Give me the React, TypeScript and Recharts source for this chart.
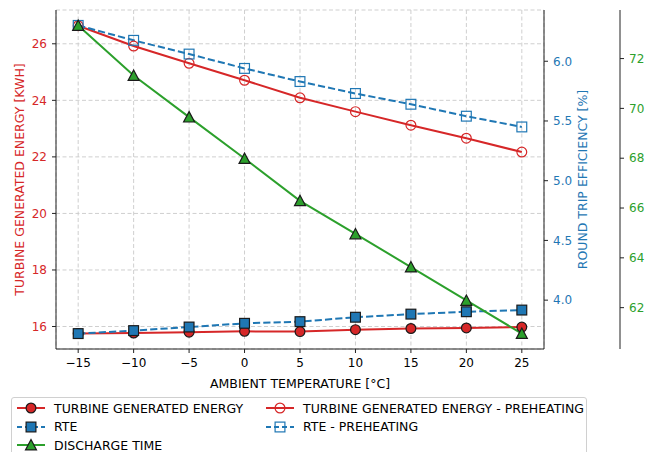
import { ComposedChart, Line, XAxis, YAxis, CartesianGrid } from 'recharts';

const temps = [-15, -10, -5, 0, 5, 10, 15, 20, 25];
const turbineEnergy = [15.75, 15.77, 15.8, 15.83, 15.82, 15.89, 15.93, 15.95, 15.98];
const turbineEnergyPre = [26.64, 25.92, 25.31, 24.71, 24.09, 23.6, 23.12, 22.66, 22.17];
const rte = [3.72, 3.745, 3.775, 3.806, 3.82, 3.857, 3.883, 3.903, 3.917];
const rtePre = [6.3, 6.175, 6.06, 5.94, 5.83, 5.73, 5.64, 5.54, 5.45];
const dischargeTime = [73.33, 71.32, 69.65, 67.99, 66.29, 64.96, 63.63, 62.29, 60.96];

const energyTicks = [16, 18, 20, 22, 24, 26];
const rteTicks = [4.0, 4.5, 5.0, 5.5, 6.0];
const timeTicks = [62, 64, 66, 68, 70, 72];

const RED = '#d62728';
const BLUE = '#1f77b4';
const GREEN = '#2ca02c';
const EDGE = '#1a1a1a';
const FONT = '"DejaVu Sans", sans-serif';
const DASH = '7.2 3.1';

// right axes get stacked by id: r1 next to the plot, r2 outside it
const RTE_AXIS = 'r1';
const TIME_AXIS = 'r2';

const data = temps.map((t, i) => ({
  t,
  tge: turbineEnergy[i],
  tgePre: turbineEnergyPre[i],
  rte: rte[i],
  rtePre: rtePre[i],
  dt: dischargeTime[i],
}));

type Shape = 'circle' | 'square' | 'triangle';

interface SeriesDef {
  key: string;
  name: string;
  color: string;
  axis: string;
  shape: Shape;
  filled: boolean;
  dashed: boolean;
}

// drawing order (reds under blues under green)
const series: SeriesDef[] = [
  { key: 'tge', name: 'TURBINE GENERATED ENERGY', color: RED, axis: 'left', shape: 'circle', filled: true, dashed: false },
  { key: 'tgePre', name: 'TURBINE GENERATED ENERGY - PREHEATING', color: RED, axis: 'left', shape: 'circle', filled: false, dashed: false },
  { key: 'rte', name: 'RTE', color: BLUE, axis: RTE_AXIS, shape: 'square', filled: true, dashed: true },
  { key: 'rtePre', name: 'RTE - PREHEATING', color: BLUE, axis: RTE_AXIS, shape: 'square', filled: false, dashed: true },
  { key: 'dt', name: 'DISCHARGE TIME', color: GREEN, axis: TIME_AXIS, shape: 'triangle', filled: true, dashed: false },
];

const legendOrder = ['tge', 'rte', 'dt', 'tgePre', 'rtePre'];

const HALF = 4.9;

function marker(shape: Shape, cx: number, cy: number, color: string, filled: boolean, key?: any) {
  const fill = filled ? color : 'none';
  const stroke = filled ? EDGE : color;
  if (shape === 'circle') {
    return <circle key={key} cx={cx} cy={cy} r={HALF} fill={fill} stroke={stroke} strokeWidth={1.2} />;
  }
  if (shape === 'square') {
    return <rect key={key} x={cx - HALF} y={cy - HALF} width={HALF * 2} height={HALF * 2} fill={fill} stroke={stroke} strokeWidth={1.2} />;
  }
  const pts = `${cx},${cy - HALF - 0.6} ${cx - HALF - 0.6},${cy + HALF} ${cx + HALF + 0.6},${cy + HALF}`;
  return <polygon key={key} points={pts} fill={fill} stroke={stroke} strokeWidth={1.2} strokeLinejoin="miter" />;
}

const minus = (v: number) => String(v).replace('-', '\u2212');

function LegendBox() {
  const byKey = Object.fromEntries(series.map((s) => [s.key, s]));
  const items = legendOrder.map((k) => byKey[k]);
  const cols = [items.slice(0, 3), items.slice(3)];
  return (
    <div
      style={{
        position: 'absolute',
        left: 11,
        top: 397,
        width: 576,
        height: 70,
        border: '1px solid #d0d0d0',
        borderRadius: 3,
        background: 'rgba(255,255,255,0.8)',
        boxSizing: 'border-box',
        fontFamily: FONT,
        fontSize: 12.5,
        color: '#000',
      }}
    >
      {cols.map((col, ci) => (
        <div key={ci} style={{ position: 'absolute', left: ci === 0 ? 5 : 254, top: 1 }}>
          {col.map((s) => (
            <div key={s.key} style={{ display: 'flex', alignItems: 'center', height: 18.5 }}>
              <svg width={28} height={14} style={{ marginRight: 9 }}>
                <line x1={0} y1={7} x2={28} y2={7} stroke={s.color} strokeWidth={2} strokeDasharray={s.dashed ? '5 3' : undefined} />
                {marker(s.shape, 14, 7, s.color, s.filled)}
              </svg>
              <span style={{ whiteSpace: 'nowrap' }}>{s.name}</span>
            </div>
          ))}
        </div>
      ))}
    </div>
  );
}

export default function App() {
  return (
    <div style={{ position: 'absolute', left: 0, top: 0, width: 648, height: 452, background: '#fff', fontFamily: FONT, overflow: 'hidden' }}>
      <ComposedChart width={648} height={452} data={data} margin={{ top: 10, right: 0, left: 0, bottom: 63 }}>
        <CartesianGrid yAxisId="left" stroke="#cfcfcf" strokeDasharray="4 2.5" />
        <XAxis
          dataKey="t"
          type="number"
          domain={[-17, 27]}
          ticks={temps}
          allowDataOverflow
          height={40}
          stroke="#222"
          tickSize={4}
          tickMargin={5}
          tick={{ fill: '#000', fontSize: 12 }}
          tickFormatter={minus}
          label={{ value: 'AMBIENT TEMPERATURE [°C]', position: 'insideBottom', offset: 1, fill: '#000', fontSize: 12.5 }}
        />
        <XAxis xAxisId="top" orientation="top" type="number" domain={[-17, 27]} height={0} tick={false} tickLine={false} stroke="#222" />
        <YAxis
          yAxisId="left"
          type="number"
          domain={[15.205, 27.195]}
          ticks={energyTicks}
          allowDataOverflow
          width={56}
          stroke="#222"
          tickSize={4}
          tickMargin={5}
          tick={{ fill: RED, fontSize: 12 }}
          label={{ value: 'TURBINE GENERATED ENERGY [KWH]', angle: -90, position: 'insideLeft', offset: 20, fill: RED, fontSize: 12.5, style: { textAnchor: 'middle' } }}
        />
        <YAxis
          yAxisId={RTE_AXIS}
          orientation="right"
          type="number"
          domain={[3.591, 6.429]}
          ticks={rteTicks}
          allowDataOverflow
          width={76}
          stroke="#222"
          tickSize={4}
          tickMargin={5}
          tick={{ fill: BLUE, fontSize: 12 }}
          tickFormatter={(v: number) => v.toFixed(1)}
          label={{ value: 'ROUND TRIP EFFICIENCY [%]', angle: -90, position: 'insideLeft', offset: 39, fill: BLUE, fontSize: 12.5, style: { textAnchor: 'middle' } }}
        />
        <YAxis
          yAxisId={TIME_AXIS}
          orientation="right"
          type="number"
          domain={[60.34, 73.95]}
          ticks={timeTicks}
          allowDataOverflow
          width={28}
          stroke="#222"
          tickSize={4}
          tickMargin={5}
          tick={{ fill: GREEN, fontSize: 12 }}
        />
        {series.map((s) => (
          <Line
            key={s.key}
            yAxisId={s.axis}
            dataKey={s.key}
            name={s.name}
            stroke={s.color}
            strokeWidth={2}
            strokeDasharray={s.dashed ? DASH : undefined}
            isAnimationActive={false}
            dot={(p: any) => marker(s.shape, p.cx, p.cy, s.color, s.filled, `${s.key}-${p.index}`)}
            activeDot={false}
          />
        ))}
      </ComposedChart>
      <LegendBox />
    </div>
  );
}
